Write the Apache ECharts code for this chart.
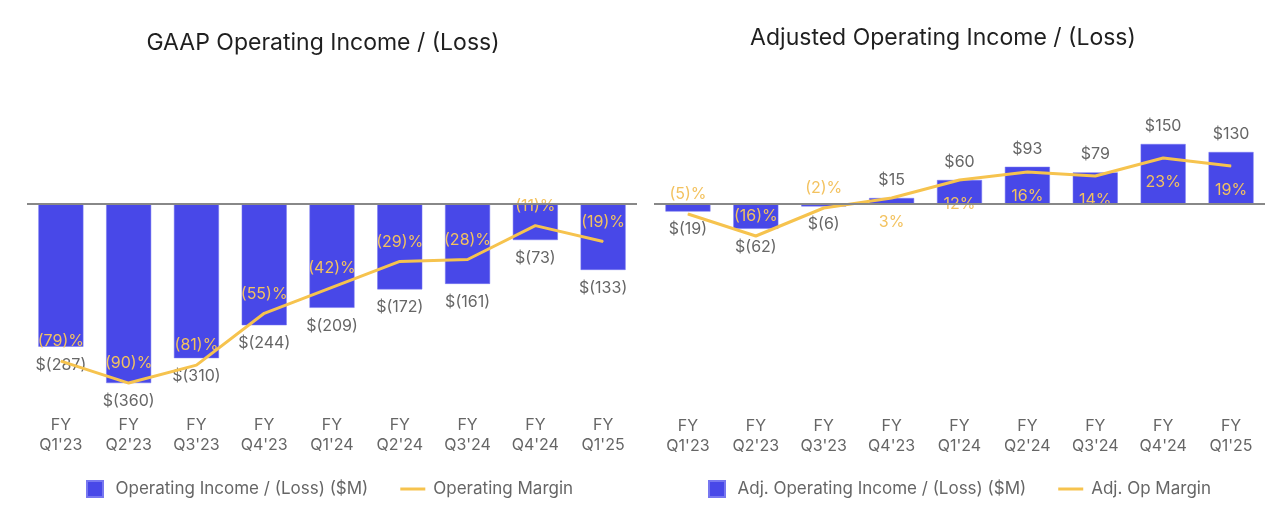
<!DOCTYPE html>
<html>
<head>
<meta charset="utf-8">
<script src="https://cdn.jsdelivr.net/npm/echarts@6/dist/echarts.min.js"></script>
<style>
html,body{margin:0;padding:0;background:#fff;}
#chart{width:1280px;height:514px;}
</style>
</head>
<body>
<div id="chart"></div>
<script>
const categories = ["FY\nQ1'23","FY\nQ2'23","FY\nQ3'23","FY\nQ4'23","FY\nQ1'24","FY\nQ2'24","FY\nQ3'24","FY\nQ4'24","FY\nQ1'25"];
const gaapIncome = [-287, -360, -310, -244, -209, -172, -161, -73, -133];
const gaapMargin = [-79, -90, -81, -55, -42, -29, -28, -11, -19];
const adjIncome = [-19, -62, -6, 15, 60, 93, 79, 150, 130];
const adjMargin = [-5, -16, -2, 3, 12, 16, 14, 23, 19];

const FONT = 'Inter';
const BLUE = '#4848E8';
const GOLD = '#F6C34E';
const GOLD_TXT = '#F3C25F';
const GRAY = '#666666';

function money(v){ return v < 0 ? '$(' + Math.abs(v) + ')' : '$' + v; }
function pct(v){ return v < 0 ? '(' + Math.abs(v) + ')%' : v + '%'; }

function barData(arr){
  return arr.map(v => ({
    value: v,
    label: {position: v < 0 ? 'bottom' : 'top'}
  }));
}
function lineData(arr){
  return arr.map(v => ({
    value: v,
    label: v < 0 ? {position: 'top', distance: 11} : {position: 'bottom', distance: 16}
  }));
}

const chart = echarts.init(document.getElementById('chart'));

const grids = [
  {left: 27, width: 610, top: 104, height: 299},
  {left: 654, width: 611, top: 104, height: 300}
];

function xAxis(i){
  return {
    type: 'category', gridIndex: i, data: categories,
    axisLine: {show: false, onZero: false}, axisTick: {show: false},
    axisLabel: {color: GRAY, fontFamily: FONT, fontSize: 16, lineHeight: 20, margin: 12}
  };
}
function yAxis(i, min, max){
  return {
    type: 'value', gridIndex: i, min: min, max: max,
    show: false, splitLine: {show: false}
  };
}

function barSeries(name, data, xi, yi){
  return {
    name: name, type: 'bar', xAxisIndex: xi, yAxisIndex: yi,
    data: barData(data), barWidth: 45,
    itemStyle: {color: BLUE, borderColor: '#7777F0', borderWidth: 0.5},
    label: {show: true, color: GRAY, fontFamily: FONT, fontSize: 16, distance: 10,
      formatter: p => money(p.value)},
    markLine: {
      silent: true, symbol: 'none', label: {show: false},
      lineStyle: {color: '#888888', width: 2, type: 'solid'},
      data: [{yAxis: 0}]
    },
    z: 2
  };
}
function lineSeries(name, data, xi, yi){
  return {
    name: name, type: 'line', xAxisIndex: xi, yAxisIndex: yi,
    data: lineData(data), symbol: 'circle', symbolSize: 1,
    lineStyle: {color: GOLD, width: 3}, itemStyle: {color: GOLD},
    label: {show: true, color: GOLD_TXT, fontFamily: FONT, fontSize: 16,
      formatter: p => pct(p.value)},
    z: 3
  };
}

const legendText = {color: GRAY, fontFamily: FONT, fontSize: 17, padding: [0, 0, 0, 3]};

const option = {
  animation: false,
  backgroundColor: '#ffffff',
  title: [
    {text: 'GAAP Operating Income / (Loss)', left: 318, top: 27, textAlign: 'center',
      textStyle: {fontFamily: FONT, fontSize: 23, fontWeight: 'normal', color: '#1f1f1f'}},
    {text: 'Adjusted Operating Income / (Loss)', left: 938, top: 22, textAlign: 'center',
      textStyle: {fontFamily: FONT, fontSize: 23, fontWeight: 'normal', color: '#1f1f1f'}}
  ],
  legend: [
    {data: [{name: 'Operating Income / (Loss) ($M)', icon: 'path://M0,0H16V16H0Z'},
            {name: 'Operating Margin', icon: 'path://M0,0H25V3H0Z'}],
     left: 81, top: 475, itemWidth: 25, itemHeight: 16, itemGap: 32,
     textStyle: legendText},
    {data: [{name: 'Adj. Operating Income / (Loss) ($M)', icon: 'path://M0,0H16V16H0Z'},
            {name: 'Adj. Op Margin', icon: 'path://M0,0H25V3H0Z'}],
     left: 703, top: 475, itemWidth: 25, itemHeight: 16, itemGap: 32,
     textStyle: legendText}
  ],
  grid: grids,
  xAxis: [xAxis(0), xAxis(1)],
  yAxis: [yAxis(0, -400, 200), yAxis(0, -100, 50), yAxis(1, -500, 250), yAxis(1, -100, 50)],
  series: [
    barSeries('Operating Income / (Loss) ($M)', gaapIncome, 0, 0),
    lineSeries('Operating Margin', gaapMargin, 0, 1),
    barSeries('Adj. Operating Income / (Loss) ($M)', adjIncome, 1, 2),
    lineSeries('Adj. Op Margin', adjMargin, 1, 3)
  ]
};
chart.setOption(option);
</script>
</body>
</html>
